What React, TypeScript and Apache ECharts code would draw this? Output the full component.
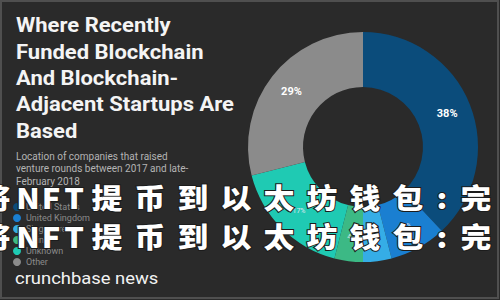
import React, { useEffect, useRef } from "react";
import * as echarts from "echarts";

const categories = ["United States", "United Kingdom", "Singapore", "China", "Unknown", "Other"];
const shares = [38, 8, 4, 4, 17, 29];
const palette = ["#0b4c7b", "#1a7fd1", "#35ade6", "#3cb985", "#1fcab3", "#8b8b8b"];
const titleLines = ["Where Recently", "Funded Blockchain", "And Blockchain-", "Adjacent Startups Are", "Based"];
const subtitleLines = ["Location of companies that raised", "venture rounds between 2017 and late-", "February 2018"];
const brand = "crunchbase news";
const watermark = "将NFT提币到以太坊钱包:完整";

export default function App() {
  const ref = useRef<HTMLDivElement>(null);
  useEffect(() => {
    if (!ref.current) return;
    const chart = echarts.init(ref.current, null, { renderer: "svg" });

    const graphics: any[] = [
      {
        type: "rect",
        z: -10,
        shape: { x: 1, y: 1, width: 497, height: 297 },
        style: { fill: "#2a2a2a", stroke: "#4f4f4f", lineWidth: 2 },
        silent: true,
      },
    ];
    titleLines.forEach((t, i) => {
      graphics.push({
        type: "text",
        x: 16,
        y: 25 + i * 26.4,
        scaleX: 1.1,
        z: 5,
        style: {
          text: t,
          fill: "#f4f4f4",
          fontSize: 20,
          fontWeight: "bold",
          fontFamily: "Roboto",
          align: "left",
          verticalAlign: "middle",
        },
      });
    });
    subtitleLines.forEach((t, i) => {
      graphics.push({
        type: "text",
        x: 16,
        y: 156 + i * 12.6,
        z: 5,
        style: {
          text: t,
          fill: "#b4b4b4",
          fontSize: 10,
          fontFamily: "Roboto",
          align: "left",
          verticalAlign: "middle",
        },
      });
    });
    graphics.push({
      type: "text",
      x: 15,
      y: 278,
      scaleX: 1.15,
      z: 5,
      style: {
        text: brand,
        fill: "#f2f2f2",
        fontSize: 16,
        fontFamily: "Roboto",
        align: "left",
        verticalAlign: "middle",
      },
    });
    // watermark lines, each character advanced individually
    const advOf = (ch: string) => (ch === ":" ? 25 : /[\u4e00-\u9fff]/.test(ch) ? 43 : 23);
    [197, 236].forEach((ly) => {
      let cx = -5;
      const chars = Array.from(watermark);
      chars.forEach((ch, i) => {
        if (i > 0) cx += advOf(chars[i - 1]) / 2 + advOf(ch) / 2;
        graphics.push({
          type: "text",
          x: cx,
          y: ly,
          scaleX: 1.1,
          z: 100,
          style: {
            text: ch,
            fill: "#ffffff",
            stroke: "#1c1c1c",
            lineWidth: 2,
            fontSize: 28,
            fontWeight: 900,
            fontFamily: "Noto Sans CJK SC",
            align: "center",
            verticalAlign: "middle",
          },
        });
      });
    });

    chart.setOption({
      animation: false,
      backgroundColor: "#2a2a2a",
      color: palette,
      legend: {
        orient: "vertical",
        left: 8,
        top: 197,
        icon: "circle",
        itemWidth: 8,
        itemHeight: 8,
        itemGap: 1,
        selectedMode: false,
        data: categories,
        textStyle: { color: "#8a8a8a", fontSize: 9, fontFamily: "Roboto", lineHeight: 10 },
      },
      series: [
        {
          type: "pie",
          center: [363, 147],
          radius: [60, 115],
          startAngle: 90,
          clockwise: true,
          silent: true,
          labelLine: { show: false },
          label: {
            show: true,
            position: "inside",
            color: "#ffffff",
            fontFamily: "Roboto",
          },
          data: categories.map((name, i) => ({
            name,
            value: shares[i],
            label: {
              formatter: "{c}%",
              fontSize: shares[i] >= 20 ? 11 : 7,
              fontWeight: shares[i] >= 20 ? "bold" : "normal",
              color: shares[i] >= 20 ? "#ffffff" : "#dfe8f0",
            },
          })),
        },
      ],
      graphic: graphics,
    });
    return () => chart.dispose();
  }, []);
  return (
    <div
      ref={ref}
      style={{ position: "fixed", left: 0, top: 0, width: 500, height: 300 }}
    />
  );
}
